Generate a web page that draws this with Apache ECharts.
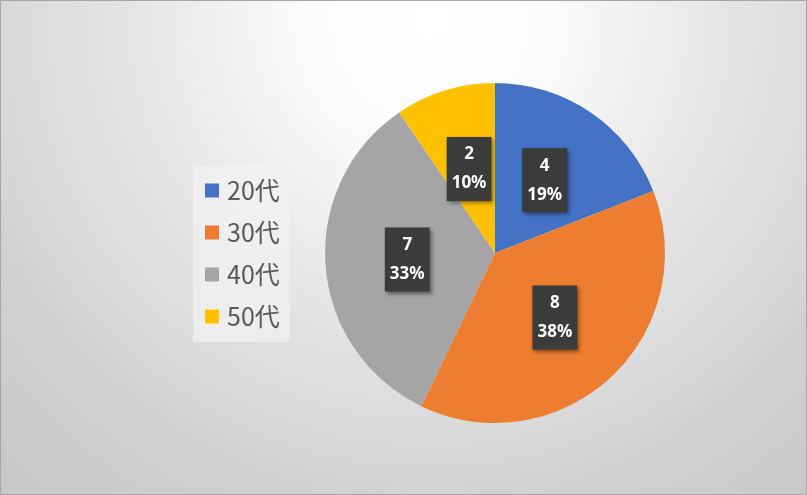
<!DOCTYPE html>
<html><head><meta charset="utf-8">
<script src="https://cdn.jsdelivr.net/npm/echarts@6/dist/echarts.min.js"></script>
<style>html,body{margin:0;padding:0;}#c{width:807px;height:495px;}</style>
</head><body><div id="c"></div>
<script>
const categories = ['20代', '30代', '40代', '50代'];
const values = [4, 8, 7, 2];
const colors = ['#4472C4', '#ED7D31', '#A5A5A5', '#FFC000'];

const chart = echarts.init(document.getElementById('c'));
chart.setOption({
  backgroundColor: {type: 'radial', x: 430, y: 20, r: 620, global: true, colorStops: [
    {offset: 0, color: '#ffffff'}, {offset: 0.2, color: '#fbfbfb'},
    {offset: 0.47, color: '#e6e6e6'}, {offset: 0.7, color: '#d8d8d8'},
    {offset: 0.78, color: '#d1d1d1'}, {offset: 1, color: '#c8c8c8'}]},
  animation: false,
  color: colors,
  graphic: [{type: 'rect', shape: {x: 0.5, y: 0.5, width: 806, height: 494},
    style: {fill: 'none', stroke: '#a6a6a6', lineWidth: 1}, silent: true}],
  legend: {
    orient: 'vertical', left: 193, top: 165,
    padding: [11, 10, 11, 12],
    backgroundColor: 'rgba(242,242,242,0.75)',
    icon: 'rect', itemWidth: 14, itemHeight: 14, itemGap: 13,
    textStyle: {fontFamily: 'Noto Sans CJK JP', fontSize: 25, lineHeight: 29, color: '#595959', padding: [0, 0, 0, 3]},
    data: categories
  },
  series: [{
    type: 'pie', center: [495, 253], radius: 170, startAngle: 90, clockwise: true,
    percentPrecision: 0,
    data: categories.map((n, i) => ({name: n, value: values[i]})),
    itemStyle: {borderWidth: 0},
    label: {
      position: 'inside',
      formatter: p => '{v|' + p.value + '}\n{p|' + p.percent + '%}',
      backgroundColor: '#3b3b3b',
      padding: [3, 5, 3, 5],
      shadowColor: 'rgba(0,0,0,0.45)', shadowBlur: 4, shadowOffsetX: 2, shadowOffsetY: 2,
      rich: {
        v: {fontFamily: 'Noto Sans', fontWeight: 'bold', fontSize: 17, color: '#ffffff', lineHeight: 29, align: 'center'},
        p: {fontFamily: 'Noto Sans', fontWeight: 'bold', fontSize: 17, color: '#ffffff', lineHeight: 29, align: 'center'}
      }
    },
    labelLine: {show: false}
  }]
});
</script></body></html>
